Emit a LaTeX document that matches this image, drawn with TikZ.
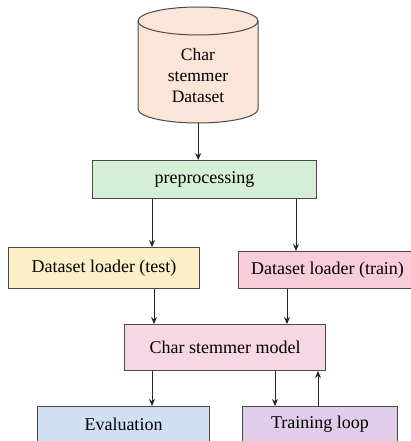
\documentclass[tikz,border=0pt]{standalone}
\usepackage{fontspec}
\setmainfont{Liberation Serif}
\usetikzlibrary{arrows.meta}
\definecolor{linegray}{HTML}{4A4A4A}
\definecolor{cylfill}{HTML}{FBE4D8}
\definecolor{prefill}{HTML}{D5EFD7}
\definecolor{testfill}{HTML}{FCEFC8}
\definecolor{trainfill}{HTML}{F8CCD9}
\definecolor{modelfill}{HTML}{F8D7E4}
\definecolor{evalfill}{HTML}{CFE0F1}
\definecolor{loopfill}{HTML}{E1CDE9}
\begin{document}
\begin{tikzpicture}[x=1pt,y=-1pt,
  box/.style={draw=linegray, line width=1pt, inner sep=0pt, anchor=north west,
    font=\fontsize{18}{21}\selectfont},
  arr/.style={draw=black!85, line width=0.9pt, -{Stealth[length=7pt,width=6pt]}}]
\useasboundingbox (0,0) rectangle (411,441);
\clip (0,0) rectangle (411,441);

% dataset cylinder (y axis points down, so angle 90 is the lower side)
\fill[cylfill] (138,21) -- (138,109) arc[start angle=180, end angle=0, x radius=60, y radius=14]
  -- (258,21) arc[start angle=0, end angle=-180, x radius=60, y radius=14] -- cycle;
\draw[linegray, line width=1pt] (138,21) -- (138,109)
  arc[start angle=180, end angle=0, x radius=60, y radius=14] -- (258,21);
\draw[linegray, line width=1pt] (198,21) ellipse[x radius=60, y radius=14];
\node[inner sep=0pt, minimum width=120pt, minimum height=116pt, anchor=north west] (data) at (138,7) {};
\node[inner sep=0pt, align=center, font=\fontsize{17.5}{21}\selectfont] (datalabel) at (198,76)
  {Char\\stemmer\\Dataset};

% process boxes
\node[box, fill=prefill, minimum width=224pt, minimum height=38pt] (pre) at (92,160) {preprocessing};
\node[box, fill=testfill, minimum width=191pt, minimum height=41pt] (test) at (8,247) {Dataset loader (test)};
\node[box, fill=trainfill, minimum width=178pt, minimum height=37pt] (train) at (238,251) {Dataset loader (train)};
\node[box, fill=modelfill, minimum width=201pt, minimum height=46pt] (model) at (124,324) {Char stemmer model};
\node[box, fill=evalfill, minimum width=172pt, minimum height=36pt] (eval) at (37,406) {Evaluation};
\node[box, fill=loopfill, minimum width=155pt, minimum height=36pt] (loop) at (242,406) {Training loop};

% connectors
\draw[arr] (data.south) -- (data.south |- pre.north);
\draw[arr] (pre.south -| 152,0) -- (test.north -| 152,0);
\draw[arr] (pre.south -| 296,0) -- (train.north -| 296,0);
\draw[arr] (test.south -| 154,0) -- (model.north -| 154,0);
\draw[arr] (train.south -| 287,0) -- (model.north -| 287,0);
\draw[arr] (model.south -| 152,0) -- (eval.north -| 152,0);
\draw[arr] (model.south -| 275,0) -- (loop.north -| 275,0);
\draw[arr] (loop.north -| 318,0) -- (model.south -| 318,0);
\end{tikzpicture}
\end{document}
